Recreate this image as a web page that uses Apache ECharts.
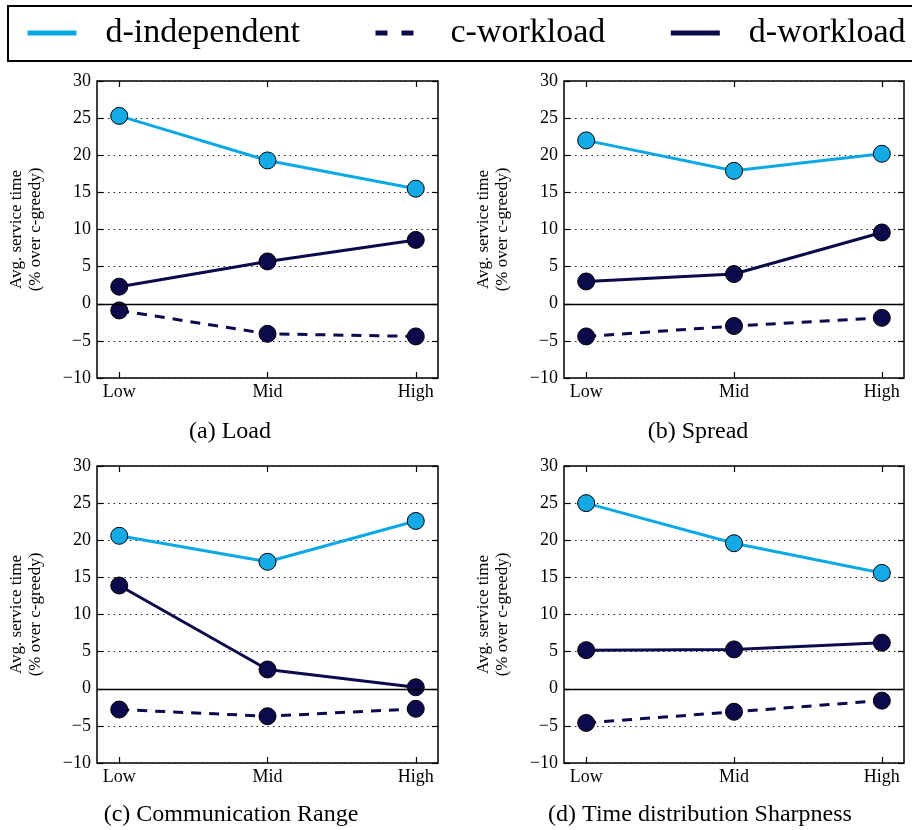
<!DOCTYPE html>
<html>
<head>
<meta charset="utf-8">
<script src="https://cdn.jsdelivr.net/npm/echarts@6/dist/echarts.min.js"></script>
<style>
html,body{margin:0;padding:0;background:#fff;}
#chart{width:912px;height:830px;}
</style>
</head>
<body>
<div id="chart"></div>
<script>
// ---- data ----
const categories = ['Low', 'Mid', 'High'];
const seriesNames = ['d-independent', 'c-workload', 'd-workload'];
const yTicks = { min: -10, max: 30, step: 5 };

// (a) Load
const dIndependentA = [25.3, 19.3, 15.5];
const cWorkloadA = [-0.9, -4.05, -4.4];
const dWorkloadA = [2.3, 5.7, 8.6];
// (b) Spread
const dIndependentB = [22.0, 17.9, 20.2];
const cWorkloadB = [-4.4, -3.0, -1.9];
const dWorkloadB = [3.0, 4.0, 9.6];
// (c) Communication Range
const dIndependentC = [20.6, 17.1, 22.6];
const cWorkloadC = [-2.8, -3.7, -2.7];
const dWorkloadC = [13.9, 2.6, 0.2];
// (d) Time distribution Sharpness
const dIndependentD = [25.0, 19.6, 15.6];
const cWorkloadD = [-4.6, -3.1, -1.6];
const dWorkloadD = [5.2, 5.3, 6.2];

const captions = ['(a) Load', '(b) Spread', '(c) Communication Range', '(d) Time distribution Sharpness'];
const yAxisTitle = 'Avg. service time\n(% over c-greedy)';

const panels = [
  [dIndependentA, cWorkloadA, dWorkloadA],
  [dIndependentB, cWorkloadB, dWorkloadB],
  [dIndependentC, cWorkloadC, dWorkloadC],
  [dIndependentD, cWorkloadD, dWorkloadD]
];

// ---- layout / style ----
const FONT = 'Liberation Serif';
const LIGHT = '#0aa8e4';
const DARK = '#0c0a4a';
const gridBoxes = [
  { left: 97, top: 81, width: 341, height: 297 },
  { left: 564, top: 81, width: 340, height: 297 },
  { left: 97, top: 466, width: 341, height: 297 },
  { left: 564, top: 466, width: 340, height: 297 }
];
const captionPos = [[230, 432], [698, 432], [231, 815], [700, 815]];

const chart = echarts.init(document.getElementById('chart'), null, { renderer: 'canvas' });

const grid = [], xAxis = [], yAxis = [], series = [], graphic = [];
const catIdx = categories.map((c, i) => i);
const fmtY = v => String(v).replace('-', '\u2212');

gridBoxes.forEach((g, gi) => {
  grid.push(Object.assign({ show: true, borderColor: '#000', borderWidth: 1.5, backgroundColor: 'transparent' }, g));
  ['bottom', 'top'].forEach((pos, k) => {
    xAxis.push({
      type: 'value', gridIndex: gi, position: pos, min: -0.15, max: 2.15,
      axisLine: { show: false, onZero: false },
      splitLine: { show: false },
      axisTick: { show: true, inside: true, length: 6, customValues: catIdx, lineStyle: { color: '#000', width: 1.2 } },
      axisLabel: k === 0 ? {
        show: true, customValues: catIdx, margin: 5,
        formatter: v => categories[Math.round(v)] || '',
        fontFamily: FONT, fontSize: 18, color: '#000'
      } : { show: false }
    });
  });
  ['left', 'right'].forEach((pos, k) => {
    yAxis.push({
      type: 'value', gridIndex: gi, position: pos,
      min: yTicks.min, max: yTicks.max, interval: yTicks.step,
      axisLine: { show: false, onZero: false },
      axisTick: { show: true, inside: true, length: 6, lineStyle: { color: '#000', width: 1.2 } },
      splitLine: k === 0 ? { show: true, lineStyle: { color: '#222', width: 1.2, type: [1.5, 4] } } : { show: false },
      axisLabel: k === 0 ? { show: true, margin: 6, formatter: fmtY, fontFamily: FONT, fontSize: 18, color: '#000' } : { show: false },
      name: k === 0 ? yAxisTitle : '',
      nameLocation: 'middle', nameRotate: 90, nameGap: 52,
      nameTextStyle: { fontFamily: FONT, fontSize: 17, lineHeight: 19, color: '#000' }
    });
  });
  const vals = panels[gi];
  vals.forEach((arr, si) => {
    const isLight = si === 0;
    const s = {
      name: seriesNames[si], type: 'line',
      xAxisIndex: gi * 2, yAxisIndex: gi * 2,
      data: arr.map((v, i) => [i, v]),
      symbol: 'circle', symbolSize: 17,
      lineStyle: { color: isLight ? LIGHT : DARK, width: 3, type: si === 1 ? [10, 8] : 'solid' },
      itemStyle: { color: isLight ? '#13aae6' : DARK, borderColor: '#000', borderWidth: 1 },
      animation: false, z: 3
    };
    if (si === 0) {
      s.markLine = {
        silent: true, symbol: ['none', 'none'], label: { show: false }, animation: false,
        lineStyle: { color: '#000', type: 'solid', width: 1.4 },
        data: [{ yAxis: 0 }]
      };
    }
    series.push(s);
  });
  graphic.push({
    type: 'text', x: captionPos[gi][0], y: captionPos[gi][1],
    style: { text: captions[gi], fontFamily: FONT, fontSize: 24, fill: '#000', align: 'center', verticalAlign: 'middle' }
  });
});

chart.setOption({
  backgroundColor: '#fff',
  animation: false,
  grid, xAxis, yAxis, series, graphic,
  legend: {
    type: 'plain', orient: 'horizontal',
    left: 8, top: 6, width: 1200,
    padding: [9, 40, 10, 17],
    borderColor: '#000', borderWidth: 2,
    itemWidth: 49, itemHeight: 30, itemGap: 63,
    itemStyle: { opacity: 0 },
    lineStyle: { width: 5 },
    textStyle: { fontFamily: FONT, fontSize: 34, lineHeight: 36, color: '#000', padding: [0, 0, 0, 23] },
    data: [
      { name: 'd-independent', lineStyle: { width: 5, type: 'solid' }, textStyle: { padding: [0, 10, 0, 24] } },
      { name: 'c-workload', lineStyle: { width: 5, type: [12, 14] }, textStyle: { padding: [0, 0, 0, 21] } },
      { name: 'd-workload', lineStyle: { width: 5, type: 'solid' }, textStyle: { padding: [0, 0, 0, 24] } }
    ]
  }
});
</script>
</body>
</html>
